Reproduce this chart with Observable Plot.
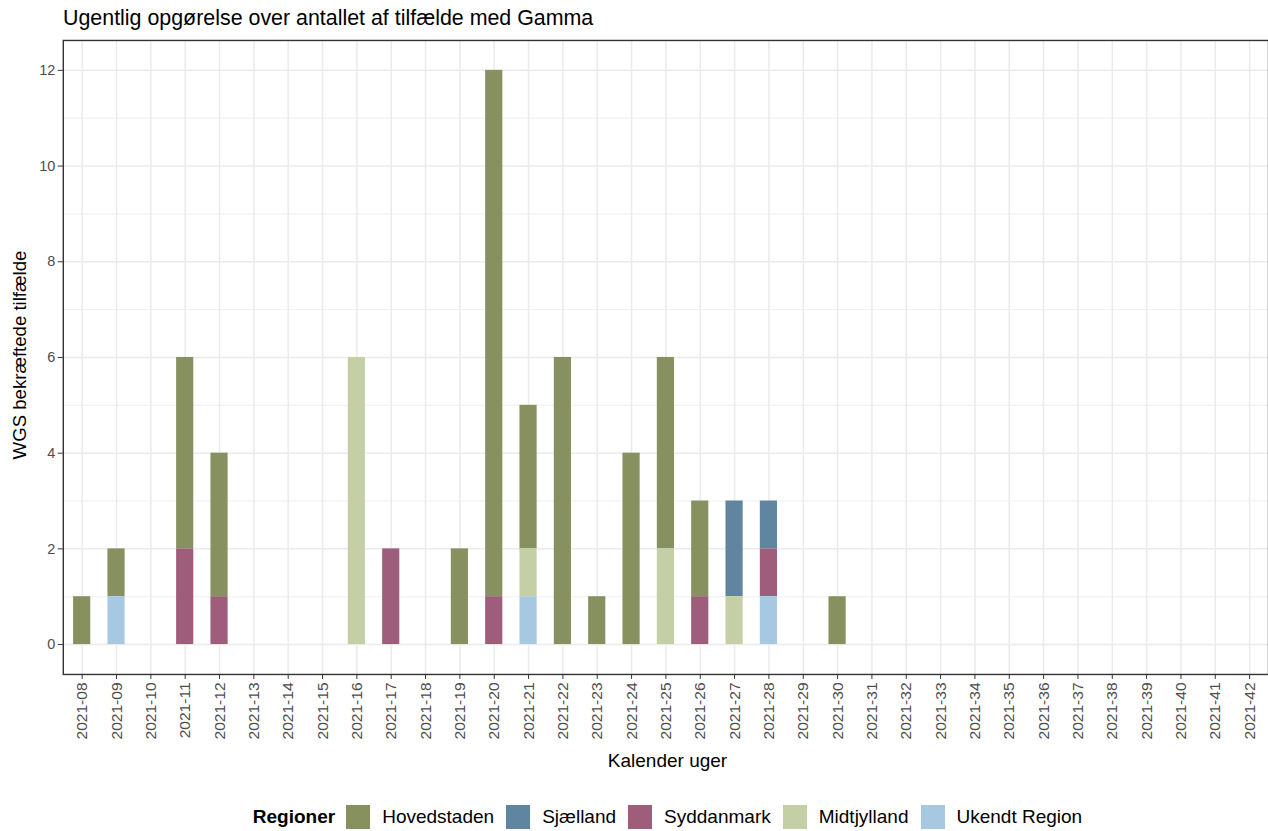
<!DOCTYPE html>
<html>
<head>
<meta charset="utf-8">
<script src="https://cdn.jsdelivr.net/npm/d3@7"></script>
<script src="https://cdn.jsdelivr.net/npm/@observablehq/plot@0.6"></script>
<style>
  html, body { margin: 0; padding: 0; background: #fff; overflow: hidden; width: 1268px; height: 831px; }
  body { position: relative; font-family: "Liberation Sans", Arial, sans-serif; color: #000; }
  #title { position: absolute; left: 63px; top: 8px; font-size: 21.4px; line-height: 1; white-space: nowrap; }
  #chart { position: absolute; left: 0; top: 30px; }
  #ylab { position: absolute; left: 20px; top: 355px; font-size: 18.6px; line-height: 1; white-space: nowrap;
          transform: translate(-50%, -50%) rotate(-90deg); }
  #xlab { position: absolute; left: 63px; width: 1209px; top: 751px; font-size: 19px; line-height: 1; text-align: center; }
  #legend { position: absolute; left: 63px; width: 1209px; top: 805px; height: 24px; display: flex;
            justify-content: center; align-items: center; font-size: 19px; white-space: nowrap; }
  #legend .lt { font-weight: bold; margin-right: 11px; }
  #legend .sw { width: 24px; height: 24px; }
  #legend .tx { margin: 0 12px 0 12px; }
  #legend .tx:last-child { margin-right: 0; }
</style>
</head>
<body>
<div id="title">Ugentlig opgørelse over antallet af tilfælde med Gamma</div>
<div id="chart"></div>
<div id="ylab">WGS bekræftede tilfælde</div>
<div id="xlab">Kalender uger</div>
<div id="legend"></div>
<script>
// ---- data ----
const weeks = ["2021-08","2021-09","2021-10","2021-11","2021-12","2021-13","2021-14","2021-15","2021-16",
  "2021-17","2021-18","2021-19","2021-20","2021-21","2021-22","2021-23","2021-24","2021-25","2021-26",
  "2021-27","2021-28","2021-29","2021-30","2021-31","2021-32","2021-33","2021-34","2021-35","2021-36",
  "2021-37","2021-38","2021-39","2021-40","2021-41","2021-42"];
const regions = ["Hovedstaden", "Sjælland", "Syddanmark", "Midtjylland", "Ukendt Region"];
const colors = ["#879160", "#5F85A0", "#9E5E7B", "#C5CFA6", "#A6C9E1"];
//                 08 09 10 11 12 13 14 15 16 17 18 19 20 21 22 23 24 25 26 27 28 29 30 31 32 33 34 35 36 37 38 39 40 41 42
const hovedstaden = [1, 1, 0, 4, 3, 0, 0, 0, 0, 0, 0, 2,11, 3, 6, 1, 4, 4, 2, 0, 0, 0, 1, 0, 0, 0, 0, 0, 0, 0, 0, 0, 0, 0, 0];
const sjaelland   = [0, 0, 0, 0, 0, 0, 0, 0, 0, 0, 0, 0, 0, 0, 0, 0, 0, 0, 0, 2, 1, 0, 0, 0, 0, 0, 0, 0, 0, 0, 0, 0, 0, 0, 0];
const syddanmark  = [0, 0, 0, 2, 1, 0, 0, 0, 0, 2, 0, 0, 1, 0, 0, 0, 0, 0, 1, 0, 1, 0, 0, 0, 0, 0, 0, 0, 0, 0, 0, 0, 0, 0, 0];
const midtjylland = [0, 0, 0, 0, 0, 0, 0, 0, 6, 0, 0, 0, 0, 1, 0, 0, 0, 2, 0, 1, 0, 0, 0, 0, 0, 0, 0, 0, 0, 0, 0, 0, 0, 0, 0];
const ukendt      = [0, 1, 0, 0, 0, 0, 0, 0, 0, 0, 0, 0, 0, 1, 0, 0, 0, 0, 0, 0, 1, 0, 0, 0, 0, 0, 0, 0, 0, 0, 0, 0, 0, 0, 0];
const yTicks = [0, 2, 4, 6, 8, 10, 12];
const yMinor = [1, 3, 5, 7, 9, 11];
const stackOrder = ["Ukendt Region", "Midtjylland", "Syddanmark", "Sjælland", "Hovedstaden"];

// ---- build table ----
const series = [hovedstaden, sjaelland, syddanmark, midtjylland, ukendt];
const rows = [];
regions.forEach((r, k) => series[k].forEach((v, i) => {
  if (v > 0) rows.push({week: weeks[i], region: r, count: v});
}));

const chart = Plot.plot({
  width: 1272,
  height: 770,
  marginLeft: 63,
  marginRight: 0,
  marginTop: 10,
  marginBottom: 124,
  style: {fontFamily: "'Liberation Sans', Arial, sans-serif", background: "white", overflow: "visible"},
  x: {type: "band", domain: weeks, paddingInner: 0.5, paddingOuter: 0.3, round: false, label: null},
  y: {domain: [-0.625, 12.625], label: null},
  color: {domain: regions, range: colors},
  marks: [
    Plot.gridY(yMinor, {stroke: "#EBEBEB", strokeOpacity: 1, strokeWidth: 0.8}),
    Plot.gridY(yTicks, {stroke: "#EBEBEB", strokeOpacity: 1, strokeWidth: 1.5}),
    Plot.gridX(weeks, {stroke: "#EBEBEB", strokeOpacity: 1, strokeWidth: 1.5}),
    Plot.barY(rows, Plot.stackY({order: stackOrder}, {x: "week", y: "count", fill: "region", z: "region"})),
    Plot.frame({stroke: "#333333", strokeWidth: 1.4}),
    Plot.axisY(yTicks, {tickSize: 5, tickPadding: 3, fontSize: 14.5, stroke: "#333333", color: "#4D4D4D", label: null}),
    Plot.axisX(weeks, {tickSize: 5, tickPadding: 3, tickRotate: -90, fontSize: 15.6, stroke: "#333333", color: "#4D4D4D", label: null})
  ]
});
document.getElementById("chart").appendChild(chart);

// ---- legend ----
const lg = document.getElementById("legend");
const lt = document.createElement("span");
lt.className = "lt"; lt.textContent = "Regioner"; lg.appendChild(lt);
regions.forEach((r, i) => {
  const sw = document.createElement("span");
  sw.className = "sw"; sw.style.background = colors[i]; lg.appendChild(sw);
  const tx = document.createElement("span");
  tx.className = "tx"; tx.textContent = r; lg.appendChild(tx);
});
</script>
</body>
</html>
